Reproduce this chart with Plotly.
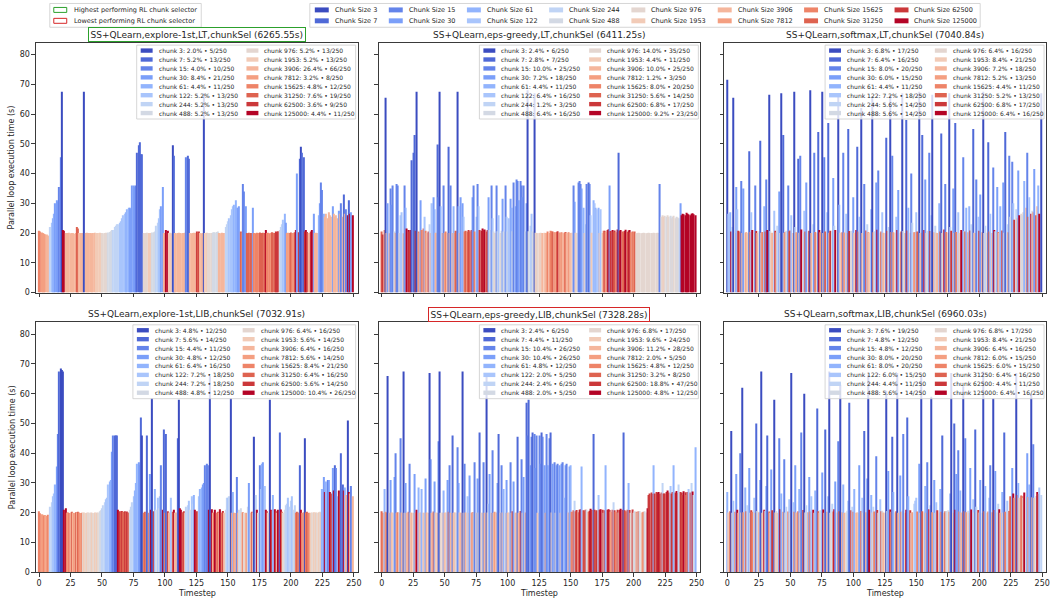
import plotly.graph_objects as go

W, H = 1061, 607
FONT = "DejaVu Sans"

# ---------------------------------------------------------------- data
chunk_sizes = [3, 7, 15, 30, 61, 122, 244, 488, 976, 1953, 3906, 7812,
               15625, 31250, 62500, 125000]
# coolwarm sampled at 16 evenly spaced levels
chunk_colors = ['#3b4cc0', '#4f69d7', '#6484ea', '#7b9ff9', '#92b4fd', '#a9c5fc',
                '#c0d4f5', '#d3d9e4', '#e4d6d0', '#f2cbb7', '#f5b69c', '#f49f81',
                '#ee8468', '#de6350', '#cb383a', '#b40426']

titles = [
    "SS+QLearn,explore-1st,LT,chunkSel (6265.55s)",
    "SS+QLearn,eps-greedy,LT,chunkSel (6411.25s)",
    "SS+QLearn,softmax,LT,chunkSel (7040.84s)",
    "SS+QLearn,explore-1st,LIB,chunkSel (7032.91s)",
    "SS+QLearn,eps-greedy,LIB,chunkSel (7328.28s)",
    "SS+QLearn,softmax,LIB,chunkSel (6960.03s)",
]
best_panel, worst_panel = 0, 4

# chosen chunk index (into chunk_sizes) per timestep, and loop time (s)
p1_chunk = [
    12, 12, 11, 11, 11, 11, 10, 10, 10, 6, 5, 4, 4, 3, 3, 3, 2, 2, 0, 15, 15, 10, 10, 10, 10,
    10, 10, 10, 10, 10, 13, 13, 10, 10, 10, 10, 0, 10, 10, 10, 10, 10, 10, 10, 10, 9, 9, 9, 9, 9,
    8, 8, 8, 8, 8, 7, 7, 7, 7, 6, 6, 6, 6, 6, 5, 5, 5, 5, 5, 4, 4, 4, 3, 3, 3,
    3, 3, 2, 1, 1, 1, 1, 1, 8, 8, 8, 8, 9, 9, 9, 7, 7, 7, 6, 6, 5, 5, 3, 3, 10,
    10, 15, 15, 9, 9, 9, 0, 1, 10, 10, 10, 10, 10, 10, 10, 10, 10, 2, 1, 1, 10, 10, 10, 10, 10,
    14, 13, 14, 10, 10, 10, 0, 9, 9, 8, 8, 8, 8, 7, 7, 7, 7, 7, 10, 10, 10, 10, 10, 6, 6,
    6, 5, 5, 5, 5, 4, 4, 4, 3, 3, 13, 12, 2, 2, 3, 13, 13, 13, 13, 13, 3, 12, 12, 12, 12,
    13, 13, 13, 13, 13, 15, 12, 12, 12, 11, 13, 13, 13, 14, 14, 14, 7, 6, 6, 5, 4, 3, 11, 11, 12,
    13, 12, 11, 13, 15, 3, 14, 1, 0, 1, 1, 14, 15, 14, 10, 10, 14, 15, 3, 10, 10, 10, 4, 3, 2,
    2, 4, 10, 10, 10, 10, 10, 10, 3, 10, 10, 10, 10, 3, 10, 2, 10, 1, 10, 2, 15, 1, 15, 3, 15,
]
p1_time = [
    20.8, 20.5, 20.2, 20.0, 19.8, 19.6, 19.5, 19.2, 19.0, 22.0, 23.5, 25.0, 26.5, 30.0, 31.0, 30.5, 35.5, 45.5, 67.5, 21.0, 20.8, 20.0, 19.9, 20.0, 20.1,
    19.9, 20.0, 20.0, 19.8, 20.0, 22.0, 21.5, 20.0, 20.0, 19.9, 20.0, 67.5, 20.0, 20.1, 19.9, 20.0, 20.0, 19.8, 20.0, 20.1, 20.0, 19.9, 20.0, 20.1, 20.0,
    20.0, 19.9, 20.0, 20.1, 20.0, 20.2, 20.4, 20.6, 21.0, 21.0, 22.0, 22.5, 23.0, 23.0, 23.5, 24.0, 25.0, 26.0, 26.5, 27.0, 28.0, 28.5, 28.5, 28.0, 36.0,
    36.0, 35.5, 36.0, 47.0, 49.5, 50.5, 46.5, 46.5, 20.0, 19.9, 20.0, 20.1, 20.0, 19.9, 20.0, 20.2, 20.3, 20.5, 22.5, 23.5, 25.0, 28.0, 29.0, 35.5, 20.0,
    20.0, 21.0, 20.8, 20.0, 20.1, 19.9, 49.5, 46.0, 20.0, 19.9, 20.0, 20.1, 20.0, 19.9, 20.0, 20.0, 20.1, 45.5, 46.0, 45.0, 20.0, 19.9, 20.0, 20.1, 20.0,
    20.5, 20.3, 20.5, 20.0, 19.9, 20.0, 67.0, 20.0, 20.1, 20.0, 19.9, 20.0, 20.0, 20.2, 20.3, 20.2, 20.4, 20.5, 20.0, 19.9, 20.1, 20.0, 20.0, 22.0, 23.0,
    24.0, 25.0, 26.0, 28.0, 29.0, 29.5, 31.0, 28.5, 28.5, 29.0, 20.5, 20.0, 36.5, 34.0, 29.0, 20.0, 19.8, 20.1, 20.0, 19.9, 28.5, 20.0, 19.9, 20.1, 20.0,
    20.2, 20.0, 19.9, 20.1, 20.0, 21.0, 20.0, 20.1, 19.9, 20.0, 20.3, 20.1, 20.0, 20.5, 20.4, 20.6, 21.0, 22.0, 23.0, 24.5, 26.5, 23.5, 20.0, 20.1, 20.0,
    20.2, 20.0, 20.1, 20.3, 21.0, 40.0, 20.3, 45.0, 49.0, 47.0, 45.5, 20.5, 21.0, 20.4, 20.0, 20.1, 20.5, 21.0, 26.5, 20.0, 20.1, 20.0, 26.0, 30.0, 37.0,
    34.5, 26.5, 25.5, 26.5, 25.0, 27.0, 26.0, 25.5, 29.0, 26.5, 25.5, 26.0, 25.0, 27.5, 26.5, 30.0, 25.5, 33.0, 26.5, 28.0, 26.0, 31.0, 26.5, 27.0, 26.0,
]

p2_chunk = [
    13, 14, 12, 0, 10, 3, 10, 2, 3, 2, 7, 10, 2, 2, 8, 5, 5, 10, 2, 4, 15, 15, 13, 15, 1,
    1, 1, 14, 0, 12, 10, 3, 12, 13, 5, 12, 10, 14, 6, 10, 5, 3, 4, 10, 1, 3, 0, 4, 10, 2,
    10, 12, 10, 1, 10, 2, 10, 4, 10, 13, 0, 4, 10, 3, 3, 5, 12, 13, 12, 14, 13, 14, 3, 2, 12,
    5, 2, 5, 14, 14, 15, 14, 15, 13, 14, 3, 7, 2, 5, 7, 8, 2, 7, 5, 8, 7, 3, 7, 2, 5,
    7, 5, 3, 4, 7, 2, 4, 2, 2, 3, 2, 2, 3, 2, 7, 3, 0, 7, 6, 5, 7, 0, 8, 9, 8,
    9, 8, 9, 10, 9, 10, 10, 12, 10, 12, 12, 13, 12, 10, 12, 14, 12, 10, 12, 10, 12, 13, 10, 12, 10,
    10, 9, 2, 3, 9, 8, 2, 2, 2, 3, 4, 9, 6, 2, 1, 2, 5, 9, 4, 5, 4, 5, 4, 9, 5,
    9, 11, 14, 11, 14, 15, 3, 14, 15, 13, 14, 12, 15, 1, 14, 15, 13, 12, 14, 15, 13, 14, 15, 12, 13,
    11, 13, 8, 8, 8, 8, 8, 8, 8, 8, 8, 8, 8, 8, 8, 8, 8, 8, 8, 8, 8, 2, 8, 8, 9,
    8, 7, 8, 8, 7, 8, 7, 8, 8, 7, 8, 7, 3, 15, 15, 15, 15, 15, 15, 15, 15, 15, 15, 15, 15,
]
p2_time = [
    20.5, 19.5, 21.0, 65.5, 20.0, 30.0, 19.9, 35.0, 29.5, 36.0, 20.5, 20.0, 36.5, 36.0, 20.0, 26.0, 27.0, 19.9, 36.0, 28.5, 21.5, 21.0, 20.5, 21.0, 44.5,
    47.0, 53.0, 20.8, 67.5, 20.5, 20.0, 31.0, 21.0, 21.5, 25.5, 20.8, 20.0, 20.5, 23.0, 20.0, 30.0, 32.0, 28.0, 20.1, 49.8, 32.0, 67.5, 29.0, 20.0, 36.0,
    20.0, 20.5, 20.1, 49.0, 20.0, 36.0, 20.0, 29.0, 20.0, 20.8, 67.5, 29.0, 20.0, 32.0, 30.0, 25.5, 20.5, 20.8, 20.5, 21.0, 20.6, 21.0, 32.0, 36.0, 20.5,
    25.5, 36.5, 29.0, 21.0, 20.8, 21.5, 21.0, 21.2, 20.5, 21.0, 32.0, 21.0, 36.0, 25.0, 20.5, 20.0, 36.0, 20.6, 26.0, 20.0, 20.8, 31.5, 20.5, 36.0, 25.5,
    20.5, 25.0, 31.5, 28.5, 20.6, 37.0, 29.0, 38.0, 37.5, 31.0, 37.5, 36.0, 32.0, 36.0, 20.5, 30.0, 68.0, 20.6, 22.5, 26.5, 20.5, 67.0, 20.1, 20.0, 19.9,
    20.0, 20.1, 20.0, 20.0, 20.1, 20.0, 19.9, 20.5, 20.0, 20.8, 20.6, 20.5, 20.3, 20.0, 20.4, 20.6, 20.2, 20.0, 20.3, 19.9, 20.2, 20.4, 20.0, 20.3, 20.0,
    20.0, 20.1, 36.0, 30.5, 20.1, 20.0, 37.0, 37.5, 36.5, 35.0, 28.5, 20.0, 23.0, 36.5, 37.0, 36.5, 26.0, 20.1, 31.0, 30.0, 28.5, 28.0, 28.5, 20.0, 28.0,
    20.0, 20.8, 20.8, 20.5, 21.0, 21.3, 36.0, 20.7, 21.0, 20.5, 20.9, 20.3, 21.2, 47.0, 20.8, 21.0, 20.5, 20.2, 20.7, 21.1, 20.4, 20.9, 21.0, 20.3, 20.5,
    20.3, 20.5, 19.9, 20.0, 20.1, 20.0, 19.9, 20.0, 20.1, 20.0, 19.9, 20.0, 20.1, 20.0, 20.0, 19.9, 20.1, 20.0, 20.0, 20.1, 20.0, 36.5, 25.5, 26.0, 25.5,
    25.8, 25.5, 26.0, 25.5, 25.8, 25.0, 25.5, 25.8, 25.0, 25.5, 25.2, 25.0, 30.0, 26.0, 26.5, 26.3, 26.0, 26.8, 26.5, 26.2, 26.0, 26.5, 26.7, 26.3, 26.0,
]

p3_chunk = [
    0, 5, 4, 15, 6, 0, 8, 3, 5, 14, 13, 2, 10, 3, 9, 11, 9, 1, 12, 5, 15, 8, 2, 14, 10,
    7, 1, 9, 12, 4, 13, 2, 15, 0, 7, 9, 10, 5, 14, 11, 6, 3, 8, 0, 1, 9, 12, 7, 2, 13,
    14, 5, 10, 0, 6, 11, 1, 9, 2, 15, 8, 5, 13, 3, 7, 14, 0, 10, 6, 2, 12, 9, 1, 15, 11,
    0, 9, 2, 13, 5, 1, 10, 14, 7, 3, 6, 15, 8, 0, 4, 9, 12, 2, 11, 5, 10, 1, 14, 7, 8,
    3, 9, 15, 1, 13, 5, 0, 10, 8, 2, 14, 6, 11, 9, 4, 0, 12, 7, 3, 15, 2, 8, 13, 5, 10,
    9, 1, 14, 6, 0, 12, 2, 11, 9, 5, 15, 3, 8, 13, 0, 7, 10, 1, 14, 4, 9, 2, 6, 12, 11,
    5, 13, 0, 8, 10, 1, 15, 3, 9, 7, 2, 14, 5, 0, 11, 6, 9, 10, 4, 13, 1, 8, 15, 2, 12,
    9, 0, 6, 14, 3, 10, 1, 12, 5, 9, 8, 15, 2, 7, 13, 4, 11, 4, 14, 6, 1, 9, 10, 2, 5,
    14, 3, 11, 0, 8, 6, 9, 1, 13, 5, 10, 2, 15, 7, 3, 12, 9, 4, 14, 3, 8, 1, 6, 11, 2,
    7, 2, 5, 14, 6, 10, 3, 15, 8, 7, 8, 4, 10, 2, 13, 5, 15, 7, 11, 3, 14, 10, 4, 15, 0,
]
p3_time = [
    71.5, 26.5, 27.0, 20.5, 22.0, 65.5, 20.0, 35.5, 28.0, 20.8, 20.5, 37.5, 20.0, 35.0, 20.1, 20.3, 20.0, 47.5, 20.4, 27.0, 21.0, 20.0, 36.0, 20.7, 20.0,
    20.6, 51.0, 20.1, 20.4, 29.0, 20.5, 38.0, 21.0, 66.5, 20.7, 20.0, 20.1, 27.5, 20.8, 20.3, 22.5, 34.0, 20.0, 67.0, 53.0, 20.1, 20.4, 20.8, 36.0, 20.6,
    20.9, 26.0, 20.0, 67.5, 22.0, 20.3, 45.0, 20.1, 46.0, 21.2, 20.0, 27.5, 20.5, 37.0, 20.6, 20.8, 68.0, 20.0, 23.0, 47.0, 20.4, 20.1, 54.0, 21.0, 20.3,
    67.5, 20.0, 45.5, 20.5, 27.0, 57.0, 20.1, 20.8, 20.5, 38.5, 22.5, 21.0, 20.0, 67.0, 29.5, 20.1, 20.3, 47.0, 20.2, 26.5, 20.0, 55.0, 20.7, 20.8, 20.0,
    32.0, 20.1, 21.0, 49.0, 20.5, 25.5, 62.0, 20.0, 20.0, 36.5, 20.9, 23.0, 20.4, 20.1, 28.0, 66.0, 20.3, 20.6, 37.0, 21.1, 41.0, 20.0, 20.5, 27.0, 20.1,
    20.0, 52.0, 20.8, 22.0, 66.5, 20.4, 46.0, 20.3, 20.1, 25.5, 21.0, 34.5, 20.0, 20.5, 67.0, 20.7, 20.0, 58.0, 20.9, 28.5, 20.1, 40.0, 23.5, 20.3, 20.4,
    27.0, 20.5, 67.5, 20.0, 20.1, 53.0, 21.0, 38.0, 20.0, 20.8, 47.0, 20.7, 26.0, 66.5, 20.3, 22.5, 20.1, 20.0, 30.0, 20.5, 53.5, 20.0, 21.2, 36.5, 20.4,
    20.1, 67.0, 22.0, 20.8, 35.0, 20.0, 57.0, 20.4, 27.0, 20.0, 20.1, 21.0, 45.5, 20.7, 20.5, 28.5, 20.3, 29.0, 20.9, 23.0, 55.0, 20.1, 20.0, 38.0, 25.5,
    20.8, 33.0, 20.3, 67.5, 20.0, 22.5, 20.1, 50.5, 20.5, 26.5, 20.0, 42.0, 21.0, 20.6, 35.5, 20.4, 20.0, 29.0, 20.9, 37.0, 20.1, 54.0, 23.0, 20.3, 46.0,
    25.5, 44.0, 30.0, 24.5, 28.0, 25.0, 41.0, 26.0, 26.5, 26.0, 27.0, 37.5, 28.5, 47.0, 25.5, 32.0, 26.5, 27.5, 27.0, 41.5, 26.0, 29.0, 36.0, 26.5, 67.0,
]

p4_chunk = [
    12, 12, 11, 11, 12, 11, 11, 12, 11, 6, 6, 5, 5, 4, 3, 2, 1, 0, 0, 0, 15, 15, 12, 11, 12,
    10, 13, 10, 11, 13, 10, 13, 12, 11, 12, 8, 9, 8, 9, 8, 8, 8, 9, 8, 9, 8, 9, 8, 7, 7,
    6, 6, 6, 5, 5, 5, 4, 4, 3, 2, 1, 1, 1, 15, 14, 13, 14, 13, 14, 13, 14, 13, 7, 6, 6,
    5, 4, 4, 4, 3, 3, 1, 0, 12, 13, 12, 1, 12, 3, 15, 0, 14, 4, 7, 5, 7, 5, 2, 15, 1,
    12, 1, 14, 10, 10, 5, 13, 15, 10, 10, 1, 0, 15, 15, 13, 14, 10, 6, 6, 5, 7, 5, 6, 4, 15,
    14, 13, 5, 4, 4, 3, 3, 2, 2, 2, 15, 0, 15, 10, 12, 15, 12, 13, 10, 15, 12, 14, 10, 7, 6,
    5, 6, 0, 11, 4, 11, 10, 2, 11, 7, 7, 9, 12, 8, 10, 11, 7, 3, 9, 13, 9, 0, 6, 15, 8,
    2, 5, 4, 3, 5, 15, 14, 8, 0, 15, 14, 4, 15, 14, 9, 15, 1, 15, 13, 8, 7, 6, 6, 5, 6,
    6, 5, 7, 6, 12, 13, 12, 1, 15, 12, 11, 0, 12, 13, 12, 11, 9, 8, 9, 8, 9, 8, 9, 8, 9,
    4, 3, 15, 4, 2, 3, 15, 14, 3, 15, 1, 2, 5, 15, 14, 1, 1, 15, 4, 10, 0, 15, 10, 2, 10,
]
p4_time = [
    20.5, 19.8, 19.5, 19.3, 19.0, 19.2, 19.0, 19.3, 19.0, 22.0, 23.5, 25.5, 26.5, 29.5, 35.5, 46.5, 67.5, 68.5, 68.0, 67.5, 21.0, 21.5, 20.0, 20.2, 19.9,
    20.1, 20.3, 20.0, 19.9, 20.2, 20.0, 20.3, 20.1, 19.9, 20.0, 20.0, 20.1, 19.9, 20.0, 20.1, 20.0, 20.1, 20.0, 19.9, 20.1, 20.0, 20.0, 20.1, 20.5, 20.8,
    21.5, 22.5, 23.5, 24.5, 25.0, 29.5, 30.5, 31.0, 40.5, 46.0, 46.0, 46.0, 46.0, 21.0, 20.5, 20.2, 20.6, 20.3, 20.5, 20.0, 20.4, 20.1, 21.0, 22.0, 23.5,
    25.5, 27.5, 30.0, 36.5, 37.0, 36.0, 52.0, 46.0, 20.0, 20.3, 20.1, 46.0, 20.0, 33.0, 21.0, 58.5, 20.5, 28.0, 21.0, 25.0, 21.5, 25.5, 36.0, 21.0, 48.0,
    20.0, 46.5, 20.5, 20.0, 20.1, 25.0, 20.3, 21.0, 20.0, 20.1, 45.0, 58.0, 21.5, 21.0, 20.2, 20.5, 20.0, 22.0, 22.5, 24.0, 21.0, 25.5, 23.0, 26.0, 21.0,
    20.5, 20.2, 25.5, 28.0, 28.5, 29.5, 30.0, 36.0, 36.5, 36.0, 21.0, 66.0, 21.2, 20.0, 20.1, 21.0, 20.0, 20.3, 20.0, 21.2, 20.1, 20.6, 20.0, 21.0, 25.0,
    25.0, 25.5, 58.5, 20.0, 27.0, 20.0, 19.9, 32.0, 20.0, 21.0, 21.5, 20.1, 20.2, 20.0, 20.0, 19.9, 22.0, 30.0, 20.0, 20.3, 20.1, 45.5, 26.0, 21.0, 20.0,
    36.0, 28.0, 36.5, 37.0, 29.0, 21.0, 20.5, 20.0, 58.0, 21.0, 20.6, 26.0, 21.2, 20.5, 20.0, 21.0, 47.0, 21.1, 20.3, 20.0, 21.0, 22.5, 23.0, 25.0, 22.0,
    24.0, 25.5, 21.0, 22.5, 20.0, 20.3, 20.1, 36.0, 21.0, 20.0, 20.2, 45.0, 20.1, 20.3, 20.0, 19.9, 20.0, 20.1, 20.2, 20.0, 20.1, 20.0, 20.2, 20.3, 20.1,
    28.0, 32.0, 27.0, 30.5, 31.0, 31.0, 27.0, 26.5, 35.0, 27.5, 36.0, 35.0, 25.5, 27.5, 26.5, 40.0, 29.5, 27.5, 28.5, 26.0, 51.0, 27.0, 26.5, 29.0, 25.5,
]

p5_chunk = [
    13, 12, 4, 11, 12, 0, 10, 3, 10, 9, 3, 2, 10, 12, 8, 2, 10, 0, 9, 3, 10, 12, 2, 9, 10,
    9, 3, 10, 15, 4, 10, 9, 4, 10, 8, 3, 10, 9, 0, 2, 10, 13, 3, 9, 10, 2, 0, 8, 9, 4,
    10, 9, 3, 12, 2, 10, 1, 9, 10, 8, 2, 3, 9, 10, 0, 9, 2, 10, 5, 9, 3, 10, 12, 8, 2,
    9, 3, 8, 1, 9, 8, 2, 10, 0, 9, 6, 3, 10, 2, 9, 11, 10, 3, 1, 9, 2, 10, 4, 8, 3,
    10, 9, 2, 8, 14, 3, 10, 9, 1, 10, 14, 2, 9, 3, 10, 1, 2, 1, 3, 2, 1, 2, 3, 2, 9,
    2, 3, 1, 2, 3, 10, 2, 3, 2, 1, 9, 3, 2, 8, 3, 2, 3, 9, 3, 2, 5, 3, 2, 10, 3,
    4, 12, 14, 6, 13, 14, 12, 14, 15, 4, 14, 13, 14, 7, 12, 14, 15, 14, 1, 14, 13, 14, 5, 14, 15,
    14, 8, 14, 4, 14, 15, 14, 11, 14, 6, 14, 12, 14, 8, 14, 15, 14, 1, 14, 13, 14, 4, 14, 8, 14,
    8, 7, 12, 8, 13, 7, 8, 11, 12, 7, 8, 15, 14, 14, 14, 14, 4, 14, 14, 14, 15, 14, 14, 6, 14,
    14, 14, 15, 14, 5, 14, 14, 4, 14, 15, 14, 6, 14, 14, 13, 15, 14, 11, 14, 5, 14, 6, 15, 7, 4,
]
p5_time = [
    20.5, 20.0, 28.0, 20.3, 20.1, 66.0, 20.0, 31.0, 20.1, 20.0, 32.0, 40.0, 20.0, 20.2, 20.0, 45.0, 20.1, 67.5, 20.0, 30.0, 20.0, 20.3, 36.5, 20.1, 20.0,
    20.0, 33.0, 20.1, 21.0, 28.5, 20.0, 20.1, 28.0, 20.0, 20.0, 31.5, 20.1, 20.0, 67.0, 38.0, 20.0, 20.4, 30.5, 20.1, 20.0, 44.0, 67.5, 20.0, 20.1, 27.5,
    20.0, 20.1, 31.0, 20.3, 36.0, 20.0, 46.0, 20.0, 20.1, 20.0, 42.0, 30.0, 20.1, 20.0, 67.5, 20.0, 36.5, 20.1, 25.5, 20.0, 32.5, 20.0, 20.2, 20.0, 37.0,
    20.0, 31.5, 20.1, 47.0, 20.0, 20.0, 37.0, 20.0, 67.0, 20.1, 23.0, 33.0, 20.0, 41.0, 20.0, 20.3, 20.1, 30.0, 46.5, 20.0, 36.0, 20.1, 28.0, 20.0, 31.0,
    20.0, 20.1, 37.0, 20.0, 20.5, 30.5, 20.0, 20.1, 45.5, 20.0, 20.6, 38.0, 20.0, 32.0, 20.1, 57.0, 46.0, 58.0, 36.0, 45.5, 47.0, 46.5, 35.0, 46.0, 20.0,
    46.0, 36.5, 47.0, 45.5, 36.0, 20.0, 46.5, 36.0, 45.0, 47.0, 20.1, 36.5, 37.0, 20.0, 36.0, 36.5, 36.0, 20.0, 36.5, 37.0, 25.0, 36.0, 36.5, 20.1, 35.5,
    36.0, 20.3, 20.8, 24.0, 20.5, 20.9, 20.2, 21.0, 21.2, 35.5, 20.8, 20.5, 21.0, 21.0, 20.3, 20.7, 21.3, 20.9, 46.5, 21.0, 20.4, 20.8, 26.0, 21.0, 21.2,
    21.0, 20.0, 20.8, 36.0, 21.0, 21.2, 20.9, 20.3, 21.0, 23.5, 20.8, 20.3, 21.0, 20.1, 20.9, 21.3, 21.0, 47.0, 20.8, 20.5, 21.0, 30.0, 20.9, 20.0, 21.1,
    20.0, 20.5, 20.3, 20.1, 20.5, 20.6, 20.0, 20.2, 20.3, 20.5, 20.1, 21.5, 26.0, 26.5, 26.8, 26.3, 36.0, 26.5, 27.0, 26.6, 27.0, 26.4, 26.8, 30.0, 26.5,
    26.5, 27.0, 27.5, 26.8, 29.0, 26.5, 27.0, 36.0, 26.8, 27.3, 26.6, 29.5, 27.0, 26.7, 26.0, 27.2, 26.9, 26.0, 27.0, 28.0, 26.8, 30.0, 27.1, 26.0, 42.0,
]

p6_chunk = [
    4, 9, 13, 0, 8, 5, 12, 3, 15, 10, 2, 9, 0, 11, 4, 13, 6, 3, 8, 14, 12, 5, 10, 1, 7,
    11, 3, 0, 9, 15, 7, 4, 1, 13, 8, 3, 14, 0, 10, 7, 9, 2, 15, 4, 11, 2, 8, 6, 12, 5,
    8, 0, 5, 12, 3, 10, 13, 4, 9, 2, 14, 0, 8, 6, 11, 3, 12, 5, 15, 9, 4, 1, 13, 10, 7,
    3, 15, 9, 1, 11, 4, 0, 8, 6, 12, 15, 3, 9, 2, 13, 0, 11, 4, 10, 8, 7, 5, 1, 14, 6,
    12, 4, 10, 10, 9, 3, 13, 5, 8, 1, 11, 3, 0, 15, 4, 9, 6, 12, 2, 14, 8, 5, 13, 7, 10,
    9, 0, 7, 3, 15, 11, 1, 4, 9, 13, 0, 10, 3, 12, 7, 2, 9, 15, 1, 4, 14, 8, 11, 6, 5,
    5, 12, 3, 9, 0, 13, 8, 4, 10, 2, 15, 6, 0, 11, 3, 8, 5, 14, 9, 4, 12, 1, 10, 13, 7,
    7, 11, 4, 0, 9, 1, 15, 3, 2, 12, 4, 10, 0, 13, 2, 11, 7, 9, 3, 15, 5, 8, 1, 6, 14,
    10, 3, 8, 0, 13, 4, 9, 12, 5, 2, 11, 0, 14, 3, 8, 6, 15, 10, 4, 9, 1, 12, 5, 7, 13,
    13, 3, 15, 11, 0, 14, 4, 9, 13, 12, 8, 15, 7, 3, 11, 4, 0, 10, 2, 9, 7, 15, 14, 5, 6,
]
p6_time = [
    27.0, 20.1, 20.5, 47.5, 20.0, 24.0, 20.3, 33.0, 21.0, 20.0, 40.0, 20.1, 62.0, 20.2, 28.5, 20.5, 22.5, 35.0, 20.0, 20.8, 20.3, 25.0, 20.0, 50.0, 20.6,
    20.2, 31.0, 67.5, 20.0, 21.0, 20.7, 29.0, 46.0, 20.4, 20.0, 34.5, 20.8, 58.0, 20.1, 20.6, 20.0, 45.0, 21.2, 26.5, 20.3, 38.0, 20.1, 22.0, 20.4, 24.5,
    20.0, 67.0, 23.5, 20.3, 36.0, 20.1, 20.5, 28.0, 20.0, 47.0, 20.9, 60.0, 20.1, 22.5, 20.2, 32.0, 20.4, 25.5, 21.0, 20.0, 27.5, 55.0, 20.5, 20.0, 20.8,
    33.5, 21.1, 20.0, 48.0, 20.3, 25.5, 67.5, 20.0, 23.0, 20.4, 21.2, 30.5, 20.1, 44.0, 20.5, 63.0, 20.2, 29.5, 20.0, 20.1, 20.7, 24.0, 57.0, 20.8, 22.0,
    20.3, 28.0, 20.0, 20.1, 20.0, 36.0, 20.6, 25.0, 20.0, 47.5, 20.2, 31.5, 66.5, 21.0, 26.0, 20.1, 22.0, 20.4, 39.0, 20.9, 20.0, 24.5, 20.5, 20.7, 20.1,
    20.0, 61.0, 20.6, 34.0, 21.1, 20.3, 45.5, 27.0, 20.1, 20.5, 67.0, 20.0, 32.5, 20.3, 20.7, 46.5, 20.0, 21.0, 52.0, 25.5, 20.8, 20.0, 20.2, 23.0, 24.0,
    25.0, 20.4, 36.5, 20.0, 66.0, 20.5, 20.1, 29.0, 20.0, 37.0, 21.2, 22.5, 59.0, 20.2, 31.0, 20.0, 23.5, 20.8, 20.1, 28.0, 20.3, 46.0, 20.0, 20.5, 20.6,
    20.8, 20.3, 26.5, 67.0, 20.0, 50.0, 21.0, 33.0, 41.0, 20.4, 27.5, 20.1, 62.5, 20.5, 45.0, 20.2, 20.7, 20.0, 35.0, 21.1, 24.5, 20.1, 48.0, 22.0, 20.9,
    20.1, 31.0, 20.0, 67.5, 20.5, 29.0, 20.0, 20.4, 25.0, 36.0, 20.2, 58.5, 20.9, 34.0, 20.1, 23.0, 21.2, 20.0, 27.0, 20.1, 47.0, 20.3, 24.0, 20.7, 20.6,
    25.5, 35.0, 26.5, 25.0, 67.0, 26.0, 30.0, 25.0, 25.8, 25.5, 25.0, 26.8, 25.5, 40.0, 25.3, 29.5, 60.0, 25.2, 43.0, 25.0, 25.6, 27.0, 26.3, 28.5, 26.0,
]

panel_chunks = [p1_chunk, p2_chunk, p3_chunk, p4_chunk, p5_chunk, p6_chunk]
panel_times = [p1_time, p2_time, p3_time, p4_time, p5_time, p6_time]
for ch, tm in zip(panel_chunks, panel_times):
    assert len(ch) == len(tm) == 250

x_ticks = list(range(0, 251, 25))
y_ticks = list(range(0, 81, 10))

# ---------------------------------------------------------------- layout helpers
col_left = [36, 380, 727]
col_right = [359, 703, 1050]
row_top = [43, 325]
row_bottom = [295, 577]


def X(px):
    return px / W


def Y(py):
    return 1 - py / H


# approximate DejaVu Sans advance widths (em) used to size legend columns
EM = {' ': 0.318, ':': 0.337, '.': 0.318, '%': 0.950, '\u2022': 0.590, '/': 0.337,
      'c': 0.550, 'h': 0.634, 'u': 0.634, 'n': 0.634, 'k': 0.579, 'C': 0.698,
      'S': 0.635, 'i': 0.278, 'z': 0.525, 'e': 0.615}
for d in "0123456789":
    EM[d] = 0.636


def text_w(s, size):
    return sum(EM.get(ch, 0.6) for ch in s) * size


AX_COLOR = '#3a3a3a'
TXT_COLOR = '#262626'

fig = go.Figure()
shapes = []
annotations = []
layout_axes = {}

for k in range(6):
    r, c = divmod(k, 3)
    sfx = '' if k == 0 else str(k + 1)
    chunks = panel_chunks[k]
    times = panel_times[k]
    n = len(chunks)

    fig.add_trace(go.Bar(
        x=list(range(n)), y=times,
        marker=dict(color=[chunk_colors[i] for i in chunks], line=dict(width=0)),
        width=0.85, xaxis='x' + sfx, yaxis='y' + sfx,
        showlegend=False, hoverinfo='skip'))

    common = dict(ticks='outside', ticklen=3.5, tickwidth=0.8, tickcolor=AX_COLOR,
                  showline=True, linewidth=0.8, linecolor=AX_COLOR, mirror=True,
                  showgrid=False, zeroline=False,
                  tickfont=dict(family=FONT, size=8, color=TXT_COLOR))
    layout_axes['xaxis' + sfx] = dict(
        domain=[X(col_left[c]), X(col_right[c])], anchor='y' + sfx,
        range=[-2.5, 253], tickvals=x_ticks, showticklabels=(r == 1), **common)
    layout_axes['yaxis' + sfx] = dict(
        domain=[Y(row_bottom[r]), Y(row_top[r])], anchor='x' + sfx,
        range=[0, 84], tickvals=y_ticks, showticklabels=(c == 0), **common)

    # panel title
    cx = (col_left[c] + col_right[c]) / 2
    ty = 35 if r == 0 else 317
    ann = dict(x=X(cx), y=Y(ty), xref='paper', yref='paper', text=titles[k],
               showarrow=False, xanchor='center', yanchor='middle',
               font=dict(family=FONT, size=9, color=TXT_COLOR))
    if k == best_panel:
        ann.update(bordercolor='#2ca02c', borderwidth=1, borderpad=1.5)
    elif k == worst_panel:
        ann.update(bordercolor='#d62728', borderwidth=1, borderpad=1.5)
    annotations.append(ann)

    # in-panel legend with selection share of each chunk size
    counts = [chunks.count(i) for i in range(16)]
    labels = [f"chunk {chunk_sizes[i]}: {100 * counts[i] / n:.1f}% \u2022 {counts[i]}/{n}"
              for i in range(16)]
    fs = 6.0
    box_r = col_right[c] - 2
    rt_x = box_r - 3 - max(text_w(s, fs) for s in labels[8:])
    rs_x1 = rt_x - 4
    rs_x0 = rs_x1 - 12
    lt_x = rs_x0 - 11 - max(text_w(s, fs) for s in labels[:8])
    ls_x1 = lt_x - 4
    ls_x0 = ls_x1 - 12
    box_l = ls_x0 - 4
    y0 = row_top[r]
    shapes.append(dict(type='rect', xref='paper', yref='paper',
                       x0=X(box_l), x1=X(box_r), y0=Y(y0 + 77), y1=Y(y0 + 2.5),
                       fillcolor='rgba(255,255,255,0.8)',
                       line=dict(color='#cccccc', width=0.8), layer='above'))
    for i in range(16):
        col2 = i >= 8
        row_y = y0 + 8 + 9 * (i % 8)
        sx0, sx1, tx = (rs_x0, rs_x1, rt_x) if col2 else (ls_x0, ls_x1, lt_x)
        shapes.append(dict(type='rect', xref='paper', yref='paper',
                           x0=X(sx0), x1=X(sx1), y0=Y(row_y + 2.2), y1=Y(row_y - 2.2),
                           fillcolor=chunk_colors[i], line=dict(width=0), layer='above'))
        annotations.append(dict(x=X(tx), y=Y(row_y), xref='paper', yref='paper',
                                text=labels[i], showarrow=False, xanchor='left',
                                yanchor='middle',
                                font=dict(family=FONT, size=fs, color=TXT_COLOR)))

# axis labels
for r in range(2):
    annotations.append(dict(x=X(12), y=Y((row_top[r] + row_bottom[r]) / 2),
                            xref='paper', yref='paper',
                            text='Parallel loop execution time (s)', textangle=-90,
                            showarrow=False, xanchor='center', yanchor='middle',
                            font=dict(family=FONT, size=8, color=TXT_COLOR)))
for c in range(3):
    annotations.append(dict(x=X((col_left[c] + col_right[c]) / 2), y=Y(598),
                            xref='paper', yref='paper', text='Timestep',
                            showarrow=False, xanchor='center', yanchor='middle',
                            font=dict(family=FONT, size=8, color=TXT_COLOR)))

# figure legend: best / worst selector markers
top_fs = 6.5
shapes.append(dict(type='rect', xref='paper', yref='paper',
                   x0=X(50), x1=X(202), y0=Y(27.5), y1=Y(3.5),
                   fillcolor='rgba(255,255,255,0.8)', line=dict(color='#cccccc', width=0.8),
                   layer='above'))
for j, (lab, colr) in enumerate([("Highest performing RL chunk selector", '#2ca02c'),
                                 ("Lowest performing RL chunk selector", '#d62728')]):
    yc = 10 + 11 * j
    shapes.append(dict(type='rect', xref='paper', yref='paper',
                       x0=X(54), x1=X(67), y0=Y(yc + 2.5), y1=Y(yc - 2.5),
                       fillcolor='rgba(0,0,0,0)', line=dict(color=colr, width=1),
                       layer='above'))
    annotations.append(dict(x=X(72), y=Y(yc), xref='paper', yref='paper', text=lab,
                            showarrow=False, xanchor='left', yanchor='middle',
                            font=dict(family=FONT, size=top_fs, color=TXT_COLOR)))

# figure legend: chunk size colours (8 columns x 2 rows)
size_labels = [f"Chunk Size {s}" for s in chunk_sizes]
col_x = 316
col_starts = []
for cc in range(8):
    col_starts.append(col_x)
    wmax = max(text_w(size_labels[2 * cc], top_fs), text_w(size_labels[2 * cc + 1], top_fs))
    col_x += 18 + wmax + 14
legend_right = col_starts[-1] + 18 + max(text_w(size_labels[14], top_fs),
                                         text_w(size_labels[15], top_fs)) + 5
shapes.append(dict(type='rect', xref='paper', yref='paper',
                   x0=X(311), x1=X(legend_right), y0=Y(27.5), y1=Y(3.5),
                   fillcolor='rgba(255,255,255,0.8)', line=dict(color='#cccccc', width=0.8),
                   layer='above'))
for i, lab in enumerate(size_labels):
    cc, rr = divmod(i, 2)
    yc = 10 + 11 * rr
    sx = col_starts[cc]
    shapes.append(dict(type='rect', xref='paper', yref='paper',
                       x0=X(sx), x1=X(sx + 14), y0=Y(yc + 2.5), y1=Y(yc - 2.5),
                       fillcolor=chunk_colors[i], line=dict(width=0), layer='above'))
    annotations.append(dict(x=X(sx + 18), y=Y(yc), xref='paper', yref='paper', text=lab,
                            showarrow=False, xanchor='left', yanchor='middle',
                            font=dict(family=FONT, size=top_fs, color=TXT_COLOR)))

fig.update_layout(
    width=W, height=H, autosize=False,
    margin=dict(l=0, r=0, t=0, b=0, pad=0),
    paper_bgcolor='white', plot_bgcolor='white',
    font=dict(family=FONT, color=TXT_COLOR),
    shapes=shapes, annotations=annotations,
    showlegend=False,
    **layout_axes)

fig.write_html("out.html", config={'displayModeBar': False})
